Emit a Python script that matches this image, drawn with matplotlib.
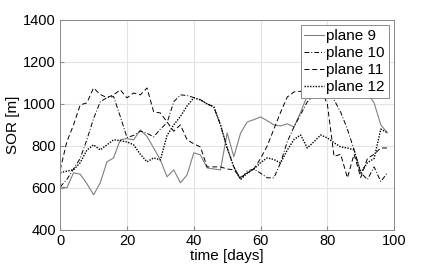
import numpy as np
import matplotlib
matplotlib.use("Agg")
import matplotlib.pyplot as plt

plt.rcParams['font.family'] = ['Liberation Sans', 'DejaVu Sans']

days = list(range(0, 100, 2))
plane9 = [605, 600, 672, 665, 620, 567, 624, 724, 743, 829,
          835, 829, 876, 845, 790, 733, 653, 686, 624, 662,
          767, 757, 695, 690, 686, 862, 748, 860, 914, 925,
          938, 920, 900, 895, 905, 890, 960, 1040, 1070, 1090,
          1100, 1090, 1100, 1080, 1090, 1070, 1050, 1005, 900, 862]
plane10 = [605, 640, 690, 740, 830, 930, 1010, 1030, 1035, 940,
           840, 850, 870, 860, 843, 880, 910, 1010, 1043, 1040,
           1030, 1020, 1000, 986, 900, 790, 700, 640, 680, 690,
           670, 648, 648, 720, 820, 890, 950, 1010, 1040, 1050,
           1050, 1020, 960, 880, 781, 672, 640, 700, 630, 672]
plane11 = [686, 820, 900, 995, 1005, 1076, 1045, 1030, 1043, 1067,
           1029, 1052, 1043, 1076, 962, 957, 914, 870, 900, 829,
           810, 795, 700, 700, 700, 690, 686, 650, 670, 690,
           740, 800, 880, 960, 1033, 1057, 1060, 1067, 1070, 1070,
           1000, 750, 760, 648, 760, 650, 740, 760, 790, 790]
plane12 = [672, 680, 686, 720, 780, 805, 781, 805, 829, 825,
           819, 805, 760, 724, 743, 733, 850, 900, 940, 990,
           1029, 1019, 1000, 986, 900, 790, 700, 640, 670, 690,
           720, 743, 735, 719, 780, 830, 852, 790, 820, 852,
           838, 815, 795, 790, 781, 672, 720, 740, 880, 862]
labels = ["plane 9", "plane 10", "plane 11", "plane 12"]

fig = plt.figure(figsize=(4.36, 2.73), dpi=100)
ax = fig.add_axes([0.138, 0.158, 0.766, 0.769])

ax.plot(days, plane9, color='#808080', lw=0.8, ls='-', label=labels[0])
ax.plot(days, plane10, color='black', lw=0.7, ls=(0, (5, 2, 1, 2)), label=labels[1])
ax.plot(days, plane11, color='black', lw=0.7, ls=(0, (5, 3)), label=labels[2])
ax.plot(days, plane12, color='black', lw=1.0, ls=(0, (1, 1)), label=labels[3])

ax.set_xlim(0, 100)
ax.set_ylim(400, 1400)
ax.set_xticks([0, 20, 40, 60, 80, 100])
ax.set_yticks([400, 600, 800, 1000, 1200, 1400])
ax.grid(True, color='#e3e3e3', lw=0.8)
ax.set_axisbelow(True)
for s in ax.spines.values():
    s.set_color('#8a8a8a')
    s.set_linewidth(0.7)
ax.tick_params(direction='in', length=3, color='#8a8a8a', labelsize=10.5, pad=3)
ax.set_xlabel('time [days]', fontsize=11, labelpad=1)
ax.set_ylabel('SOR [m]', fontsize=11, labelpad=2)

leg = ax.legend(loc='upper right', fontsize=11, handlelength=1.3, handletextpad=0.15,
                labelspacing=0.2, borderpad=0.25, borderaxespad=0.35, fancybox=False,
                framealpha=1, edgecolor='#8a8a8a')
leg.get_frame().set_linewidth(0.7)

fig.savefig('out.png', dpi=100)
